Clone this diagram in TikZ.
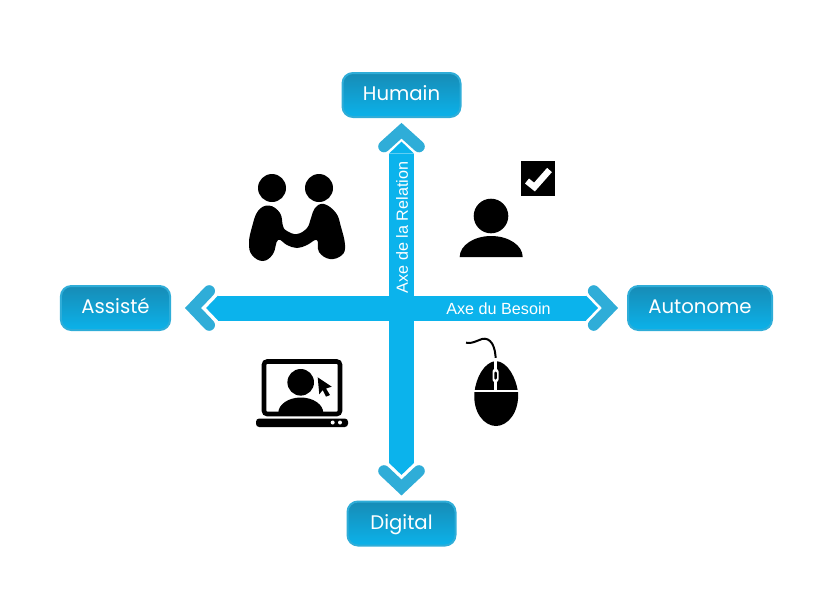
\documentclass[tikz,border=0pt]{standalone}
\usepackage{fontspec}
\setmainfont{Liberation Sans}
\newfontfamily\polefont{Poppins}
\usetikzlibrary{arrows.meta}
\definecolor{axeC}{HTML}{0BB3EC}
\definecolor{chevC}{HTML}{2FADD8}
\definecolor{poleTop}{HTML}{178CB6}
\definecolor{poleBot}{HTML}{0BB2EA}
\tikzset{
  >={Triangle[length=3mm,width=6.25mm,line width=0pt]},
  axe/.style={<->,axeC,line width=6.25mm},
  chev/.style={chevC,line width=2.9mm,line cap=round,miter limit=2},
  axetxt/.style={font=\fontsize{11.5}{13}\selectfont,text=white,inner sep=0pt},
  pole/.style={draw=chevC,line width=0.5mm,rounded corners=2.6mm,top color=poleTop,bottom color=poleBot,
    minimum height=11mm,font=\polefont\fontsize{14}{16}\selectfont,text=white,inner sep=0pt,
    text height=3.6mm,text depth=0.85mm},
}
\begin{document}
\begin{tikzpicture}[x=0.25mm,y=-0.25mm]
\useasboundingbox (0,0) rectangle (822,602);

% ---------- poles ----------
\node[pole,minimum width=29.5mm] (Humain) at (401.5,95) {Humain};
\node[pole,minimum width=27mm] (Digital) at (401.5,523.5) {Digital};
\node[pole,minimum width=27.3mm] (Assiste) at (115.5,308) {Assisté};
\node[pole,minimum width=36mm] (Autonome) at (700,308) {Autonome};

% ---------- axes ----------
\draw[axe,shorten <=6.4mm,shorten >=5.9mm] (Digital) -- (Humain);
\draw[axe,shorten <=8.75mm,shorten >=7.25mm] (Assiste) -- (Autonome);
\draw[chev] (384,146.5) -- (401.5,130.7) -- (419,146.5);
\draw[chev] (384,471) -- (401.5,487.5) -- (419,471);
\draw[chev] (209.2,291) -- (193,308) -- (209.2,325);
\draw[chev] (593.7,291) -- (610,308) -- (593.7,325);
\node[axetxt,rotate=90] (axeRel) at (402,227.5) {Axe de la Relation};
\node[axetxt] (axeBes) at (498.5,309) {Axe du Besoin};

% ---------- handshake ----------
\fill (272,188) circle[radius=14];
\fill (319,188) circle[radius=14];
\fill plot[smooth cycle,tension=0.7] coordinates {(269,205.5) (258,211) (252,227) (249,243)
  (252,255) (263,261) (273,254) (278,240) (287,245) (297,248) (307,245) (317,240)
  (319,252) (330,259) (342,255) (345,245) (341,227) (336,213) (324,204)
  (315,208) (311,218) (307,228) (297,234) (287,231) (283,226) (280,213)};

% ---------- person and check ----------
\fill (491,216) circle[radius=17.3];
\fill (459.7,257) arc[start angle=180,end angle=360,x radius=31.5,y radius=21] -- cycle;
\fill (521,161) rectangle (555,195.5);
\draw[white,line width=1.6mm] (527,181) -- (534.5,187) -- (549.5,170);

% ---------- laptop ----------
\draw[line width=1.15mm,rounded corners=0.8mm] (264,361.5) rectangle (340,414);
\fill[rounded corners=0.8mm] (256,418.5) rectangle (348,427);
\fill[white] (332.7,422.5) circle[radius=2] (340,422.5) circle[radius=2];
\fill (300.7,382.3) circle[radius=13.3];
\fill (278.3,413) arc[start angle=180,end angle=360,x radius=22.5,y radius=15.5] -- cycle;
\fill (317.7,377.3) -- (331.7,386.7) -- (326,388.5) -- (330,395) -- (326,396.7) -- (322.7,390) -- (319.3,394.3) -- cycle;

% ---------- mouse ----------
\draw[line width=0.5mm] (466,342.7) .. controls (472,344) and (476,341) .. (482,339) .. controls (490,337) and (496,345) .. (495.7,362);
\fill (496,361) .. controls (484,362) and (476,378) .. (474.5,392) .. controls (472.5,412) and (484,426) .. (496,426) .. controls (508,426) and (519.5,412) .. (518,392) .. controls (516,378) and (508,362) .. (496,361) -- cycle;
\draw[white,line width=0.55mm] (470,391) -- (522,391);
\draw[white,line width=0.9mm] (495.5,358) -- (495.5,391);
\fill[white,rounded corners=0.6mm] (492.5,369) rectangle (498.5,382);
\fill[rounded corners=0.3mm] (494.3,371.5) rectangle (496.8,379.5);

\end{tikzpicture}
\end{document}
